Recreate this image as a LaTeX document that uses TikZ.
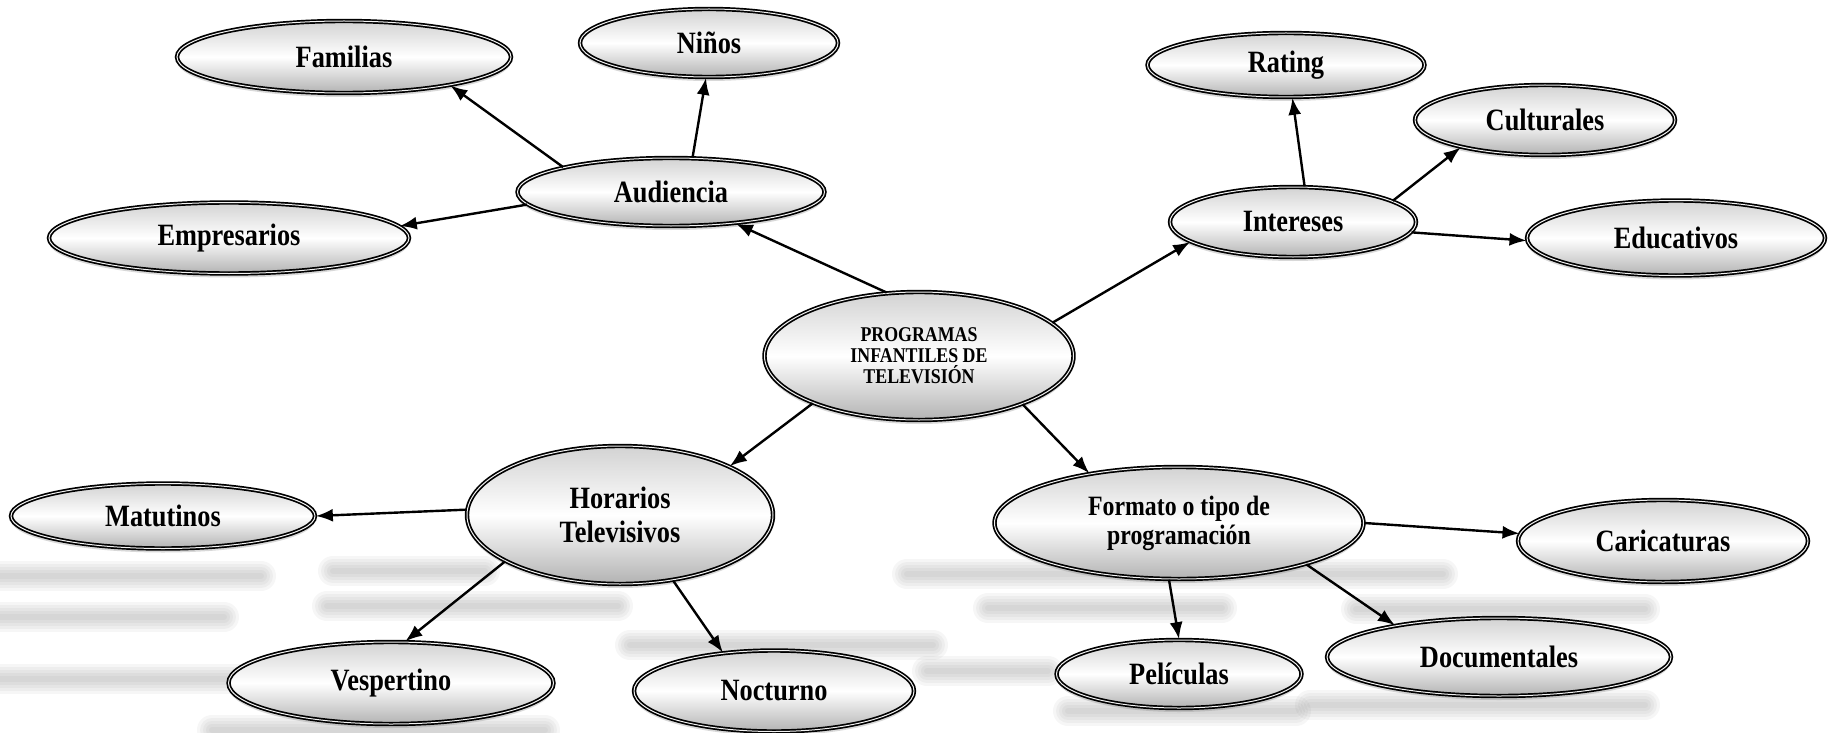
\documentclass[tikz,border=0pt]{standalone}
\usepackage{fontspec}
\setmainfont{Liberation Serif}[FakeStretch=0.85]
\usetikzlibrary{shapes.geometric, arrows.meta, shadows}

\begin{document}
\begin{tikzpicture}
        [
          x=1pt, y=-1pt,
          idea/.style={ellipse, draw=black, line width=1.7pt, double=gray!10,
            double distance=1pt, top color=gray!35, bottom color=gray!60,
            middle color=white, inner sep=0pt, align=center,
            drop shadow={shadow xshift=0pt, shadow yshift=-4pt, opacity=0.3},
            font=\bfseries\fontsize{31}{34}\selectfont},
          link/.style={-{Latex[length=17pt, width=13pt]}, line width=2.4pt},
          blur/.style={line cap=round, draw=gray, opacity=0.07}
        ]
        \fill[white] (0,0) rectangle (1831,733);
        \useasboundingbox (0,0) rectangle (1831,733);
        % reflections
        \foreach \xa/\xb/\y in {0/261/576, 333/485/571, 0/224/617, 327/618/606,
            630/933/645, 0/290/679, 907/1443/574, 988/1222/608, 1356/1645/609,
            927/1048/671, 1068/1296/711, 1310/1645/705, 212/545/730} {
            \foreach \w in {30,24,18,12,6} {
                \draw [blur, line width=\w pt] (\xa,\y) -- (\xb,\y);
            }
        }
        % centre
        \node [idea, minimum width=309pt, minimum height=128pt,
          font=\bfseries\fontsize{21}{21}\selectfont] (prog) at (919,356)
          {PROGRAMAS\\INFANTILES DE\\TELEVISIÓN};
        % audiencia
        \node [idea, minimum width=307pt, minimum height=68pt] (aud) at (671,192) {Audiencia};
        \node [idea, minimum width=334pt, minimum height=72pt] (fam) at (344,57) {Familias};
        \node [idea, minimum width=258pt, minimum height=68pt] (nin) at (709,43) {Niños};
        \node [idea, minimum width=360pt, minimum height=71pt] (emp) at (229,238) {Empresarios};
        % intereses
        \node [idea, minimum width=246pt, minimum height=70pt] (int) at (1293,222) {Intereses};
        \node [idea, minimum width=277pt, minimum height=64pt] (rat) at (1286,65) {Rating};
        \node [idea, minimum width=260pt, minimum height=70pt] (cul) at (1545,120) {Culturales};
        \node [idea, minimum width=298pt, minimum height=75pt] (edu) at (1676,238) {Educativos};
        % horarios
        \node [idea, minimum width=306pt, minimum height=138pt] (hor) at (620,515)
          {Horarios\\Televisivos};
        \node [idea, minimum width=304pt, minimum height=65pt] (mat) at (163,516) {Matutinos};
        \node [idea, minimum width=325pt, minimum height=82pt] (ves) at (391,683) {Vespertino};
        \node [idea, minimum width=280pt, minimum height=81pt] (noc) at (774,691) {Nocturno};
        % formato
        \node [idea, minimum width=369pt, minimum height=112pt,
          font=\bfseries\fontsize{28}{29}\selectfont] (form) at (1179,523)
          {Formato o tipo de\\programación};
        \node [idea, minimum width=290pt, minimum height=82pt] (car) at (1663,541) {Caricaturas};
        \node [idea, minimum width=245pt, minimum height=68pt] (pel) at (1179,674) {Películas};
        \node [idea, minimum width=344pt, minimum height=78pt] (doc) at (1499,657) {Documentales};
        % links
        \draw [link] (prog.117) -- (aud.334);
        \draw [link] (aud.167) -- (fam.345);
        \draw [link] (aud.58) -- (nin.265);
        \draw [link] (aud.185) -- (emp.4);
        \draw [link] (prog.14) -- (int.191);
        \draw [link] (int.72) -- (rat.281);
        \draw [link] (int.12) -- (cul.198);
        \draw [link] (int.355) -- (edu.181);
        \draw [link] (prog.204) -- (hor.24);
        \draw [link] (hor.178) -- (mat.0);
        \draw [link] (hor.202) -- (ves.71);
        \draw [link] (hor.309) -- (noc.143);
        \draw [link] (prog.335) -- (form.151);
        \draw [link] (form.0) -- (car.177);
        \draw [link] (form.260) -- (pel.90);
        \draw [link] (form.342) -- (doc.163);
\end{tikzpicture}
\end{document}
